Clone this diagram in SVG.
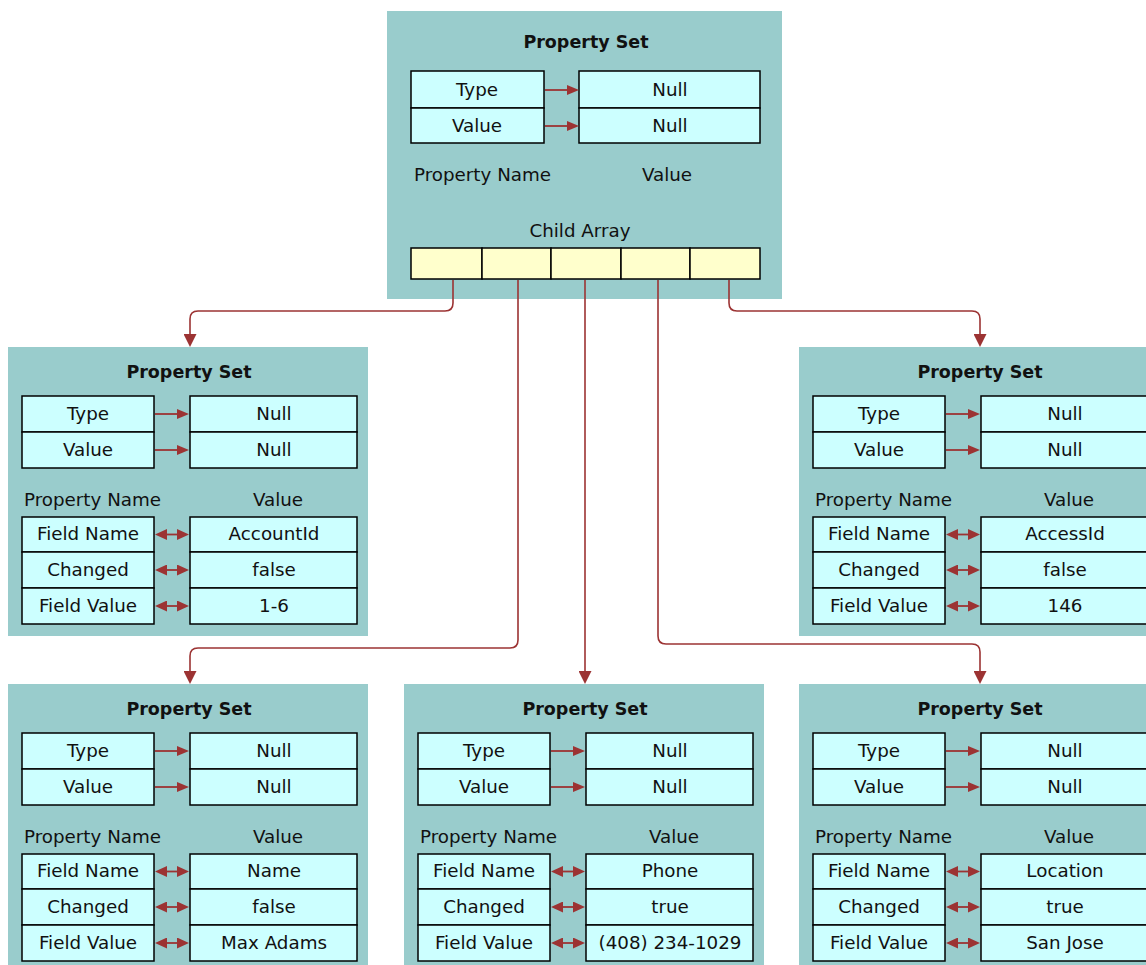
<svg xmlns="http://www.w3.org/2000/svg" width="1146" height="965" viewBox="0 0 1146 965">
<style>
.bg{fill:#99cccc}
.cell{fill:#ccffff;stroke:#000;stroke-width:1.5}
.arr{fill:#ffffcc;stroke:#000;stroke-width:1.5}
text{font-family:"DejaVu Sans","Liberation Sans",sans-serif;font-size:18.3px;fill:#111}
.t{font-weight:bold;font-size:17.5px;text-anchor:middle}
.c{text-anchor:middle}
.ln{fill:none;stroke:#9c3333;stroke-width:1.6}
.in{stroke:#9c3333;stroke-width:1.8}
</style>
<defs>
<marker id="mc" markerUnits="userSpaceOnUse" markerWidth="13" markerHeight="13" refX="0" refY="6.5" orient="auto"><path d="M0,0 L13,6.5 L0,13 z" fill="#9c3333"/></marker>
<marker id="ma" markerUnits="userSpaceOnUse" markerWidth="12" markerHeight="10" refX="0" refY="5" orient="auto"><path d="M0,0 L12,5 L0,10 z" fill="#9c3333"/></marker>
<marker id="md" markerUnits="userSpaceOnUse" markerWidth="12" markerHeight="11" refX="0" refY="5.5" orient="auto-start-reverse"><path d="M0,0 L12,5.5 L0,11 z" fill="#9c3333"/></marker>
</defs>

<g id="root">
<rect class="bg" x="387" y="11" width="395" height="288"/>
<text class="t" x="586" y="48">Property Set</text>
<rect class="cell" x="411" y="71" width="133" height="37"/>
<rect class="cell" x="411" y="108" width="133" height="35"/>
<rect class="cell" x="579" y="71" width="181" height="37"/>
<rect class="cell" x="579" y="108" width="181" height="35"/>
<text class="c" x="477" y="96">Type</text>
<text class="c" x="477" y="132">Value</text>
<text class="c" x="670" y="96">Null</text>
<text class="c" x="670" y="132">Null</text>
<line class="in" x1="545" y1="90" x2="567" y2="90" marker-end="url(#ma)"/>
<line class="in" x1="545" y1="126" x2="567" y2="126" marker-end="url(#ma)"/>
<text x="414" y="181">Property Name</text>
<text class="c" x="667" y="181">Value</text>
<text class="c" x="580" y="237">Child Array</text>
<rect class="arr" x="411" y="248" width="71" height="31"/>
<rect class="arr" x="482" y="248" width="69" height="31"/>
<rect class="arr" x="551" y="248" width="70" height="31"/>
<rect class="arr" x="621" y="248" width="69" height="31"/>
<rect class="arr" x="690" y="248" width="70" height="31"/>
</g>

<g id="ps-account" transform="translate(8,347)">
<rect class="bg" x="0" y="0" width="360" height="289"/>
<text class="t" x="181" y="31">Property Set</text>
<rect class="cell" x="14" y="49" width="132" height="36"/><rect class="cell" x="14" y="85" width="132" height="36"/>
<rect class="cell" x="182" y="49" width="167" height="36"/><rect class="cell" x="182" y="85" width="167" height="36"/>
<text class="c" x="80" y="73">Type</text><text class="c" x="80" y="109">Value</text>
<text class="c" x="266" y="73">Null</text><text class="c" x="266" y="109">Null</text>
<line class="in" x1="147" y1="67" x2="169" y2="67" marker-end="url(#ma)"/>
<line class="in" x1="147" y1="103" x2="169" y2="103" marker-end="url(#ma)"/>
<text x="16" y="159">Property Name</text><text class="c" x="270" y="159">Value</text>
<rect class="cell" x="14" y="170" width="132" height="35"/><rect class="cell" x="14" y="205" width="132" height="36"/><rect class="cell" x="14" y="241" width="132" height="36"/>
<rect class="cell" x="182" y="170" width="167" height="35"/><rect class="cell" x="182" y="205" width="167" height="36"/><rect class="cell" x="182" y="241" width="167" height="36"/>
<text class="c" x="80" y="193">Field Name</text><text class="c" x="80" y="229">Changed</text><text class="c" x="80" y="265">Field Value</text>
<text class="c" x="266" y="193">AccountId</text><text class="c" x="266" y="229">false</text><text class="c" x="266" y="265">1-6</text>
<line class="in" x1="159" y1="187.5" x2="169" y2="187.5" marker-start="url(#md)" marker-end="url(#md)"/>
<line class="in" x1="159" y1="223" x2="169" y2="223" marker-start="url(#md)" marker-end="url(#md)"/>
<line class="in" x1="159" y1="259" x2="169" y2="259" marker-start="url(#md)" marker-end="url(#md)"/>
</g>

<g id="ps-access" transform="translate(799,347)">
<rect class="bg" x="0" y="0" width="360" height="289"/>
<text class="t" x="181" y="31">Property Set</text>
<rect class="cell" x="14" y="49" width="132" height="36"/><rect class="cell" x="14" y="85" width="132" height="36"/>
<rect class="cell" x="182" y="49" width="167" height="36"/><rect class="cell" x="182" y="85" width="167" height="36"/>
<text class="c" x="80" y="73">Type</text><text class="c" x="80" y="109">Value</text>
<text class="c" x="266" y="73">Null</text><text class="c" x="266" y="109">Null</text>
<line class="in" x1="147" y1="67" x2="169" y2="67" marker-end="url(#ma)"/>
<line class="in" x1="147" y1="103" x2="169" y2="103" marker-end="url(#ma)"/>
<text x="16" y="159">Property Name</text><text class="c" x="270" y="159">Value</text>
<rect class="cell" x="14" y="170" width="132" height="35"/><rect class="cell" x="14" y="205" width="132" height="36"/><rect class="cell" x="14" y="241" width="132" height="36"/>
<rect class="cell" x="182" y="170" width="167" height="35"/><rect class="cell" x="182" y="205" width="167" height="36"/><rect class="cell" x="182" y="241" width="167" height="36"/>
<text class="c" x="80" y="193">Field Name</text><text class="c" x="80" y="229">Changed</text><text class="c" x="80" y="265">Field Value</text>
<text class="c" x="266" y="193">AccessId</text><text class="c" x="266" y="229">false</text><text class="c" x="266" y="265">146</text>
<line class="in" x1="159" y1="187.5" x2="169" y2="187.5" marker-start="url(#md)" marker-end="url(#md)"/>
<line class="in" x1="159" y1="223" x2="169" y2="223" marker-start="url(#md)" marker-end="url(#md)"/>
<line class="in" x1="159" y1="259" x2="169" y2="259" marker-start="url(#md)" marker-end="url(#md)"/>
</g>

<g id="ps-name" transform="translate(8,684)">
<rect class="bg" x="0" y="0" width="360" height="289"/>
<text class="t" x="181" y="31">Property Set</text>
<rect class="cell" x="14" y="49" width="132" height="36"/><rect class="cell" x="14" y="85" width="132" height="36"/>
<rect class="cell" x="182" y="49" width="167" height="36"/><rect class="cell" x="182" y="85" width="167" height="36"/>
<text class="c" x="80" y="73">Type</text><text class="c" x="80" y="109">Value</text>
<text class="c" x="266" y="73">Null</text><text class="c" x="266" y="109">Null</text>
<line class="in" x1="147" y1="67" x2="169" y2="67" marker-end="url(#ma)"/>
<line class="in" x1="147" y1="103" x2="169" y2="103" marker-end="url(#ma)"/>
<text x="16" y="159">Property Name</text><text class="c" x="270" y="159">Value</text>
<rect class="cell" x="14" y="170" width="132" height="35"/><rect class="cell" x="14" y="205" width="132" height="36"/><rect class="cell" x="14" y="241" width="132" height="36"/>
<rect class="cell" x="182" y="170" width="167" height="35"/><rect class="cell" x="182" y="205" width="167" height="36"/><rect class="cell" x="182" y="241" width="167" height="36"/>
<text class="c" x="80" y="193">Field Name</text><text class="c" x="80" y="229">Changed</text><text class="c" x="80" y="265">Field Value</text>
<text class="c" x="266" y="193">Name</text><text class="c" x="266" y="229">false</text><text class="c" x="266" y="265">Max Adams</text>
<line class="in" x1="159" y1="187.5" x2="169" y2="187.5" marker-start="url(#md)" marker-end="url(#md)"/>
<line class="in" x1="159" y1="223" x2="169" y2="223" marker-start="url(#md)" marker-end="url(#md)"/>
<line class="in" x1="159" y1="259" x2="169" y2="259" marker-start="url(#md)" marker-end="url(#md)"/>
</g>

<g id="ps-phone" transform="translate(404,684)">
<rect class="bg" x="0" y="0" width="360" height="289"/>
<text class="t" x="181" y="31">Property Set</text>
<rect class="cell" x="14" y="49" width="132" height="36"/><rect class="cell" x="14" y="85" width="132" height="36"/>
<rect class="cell" x="182" y="49" width="167" height="36"/><rect class="cell" x="182" y="85" width="167" height="36"/>
<text class="c" x="80" y="73">Type</text><text class="c" x="80" y="109">Value</text>
<text class="c" x="266" y="73">Null</text><text class="c" x="266" y="109">Null</text>
<line class="in" x1="147" y1="67" x2="169" y2="67" marker-end="url(#ma)"/>
<line class="in" x1="147" y1="103" x2="169" y2="103" marker-end="url(#ma)"/>
<text x="16" y="159">Property Name</text><text class="c" x="270" y="159">Value</text>
<rect class="cell" x="14" y="170" width="132" height="35"/><rect class="cell" x="14" y="205" width="132" height="36"/><rect class="cell" x="14" y="241" width="132" height="36"/>
<rect class="cell" x="182" y="170" width="167" height="35"/><rect class="cell" x="182" y="205" width="167" height="36"/><rect class="cell" x="182" y="241" width="167" height="36"/>
<text class="c" x="80" y="193">Field Name</text><text class="c" x="80" y="229">Changed</text><text class="c" x="80" y="265">Field Value</text>
<text class="c" x="266" y="193">Phone</text><text class="c" x="266" y="229">true</text><text class="c" x="266" y="265">(408) 234-1029</text>
<line class="in" x1="159" y1="187.5" x2="169" y2="187.5" marker-start="url(#md)" marker-end="url(#md)"/>
<line class="in" x1="159" y1="223" x2="169" y2="223" marker-start="url(#md)" marker-end="url(#md)"/>
<line class="in" x1="159" y1="259" x2="169" y2="259" marker-start="url(#md)" marker-end="url(#md)"/>
</g>

<g id="ps-location" transform="translate(799,684)">
<rect class="bg" x="0" y="0" width="360" height="289"/>
<text class="t" x="181" y="31">Property Set</text>
<rect class="cell" x="14" y="49" width="132" height="36"/><rect class="cell" x="14" y="85" width="132" height="36"/>
<rect class="cell" x="182" y="49" width="167" height="36"/><rect class="cell" x="182" y="85" width="167" height="36"/>
<text class="c" x="80" y="73">Type</text><text class="c" x="80" y="109">Value</text>
<text class="c" x="266" y="73">Null</text><text class="c" x="266" y="109">Null</text>
<line class="in" x1="147" y1="67" x2="169" y2="67" marker-end="url(#ma)"/>
<line class="in" x1="147" y1="103" x2="169" y2="103" marker-end="url(#ma)"/>
<text x="16" y="159">Property Name</text><text class="c" x="270" y="159">Value</text>
<rect class="cell" x="14" y="170" width="132" height="35"/><rect class="cell" x="14" y="205" width="132" height="36"/><rect class="cell" x="14" y="241" width="132" height="36"/>
<rect class="cell" x="182" y="170" width="167" height="35"/><rect class="cell" x="182" y="205" width="167" height="36"/><rect class="cell" x="182" y="241" width="167" height="36"/>
<text class="c" x="80" y="193">Field Name</text><text class="c" x="80" y="229">Changed</text><text class="c" x="80" y="265">Field Value</text>
<text class="c" x="266" y="193">Location</text><text class="c" x="266" y="229">true</text><text class="c" x="266" y="265">San Jose</text>
<line class="in" x1="159" y1="187.5" x2="169" y2="187.5" marker-start="url(#md)" marker-end="url(#md)"/>
<line class="in" x1="159" y1="223" x2="169" y2="223" marker-start="url(#md)" marker-end="url(#md)"/>
<line class="in" x1="159" y1="259" x2="169" y2="259" marker-start="url(#md)" marker-end="url(#md)"/>
</g>

<g id="connectors">
<path class="ln" d="M453,280 V303 Q453,311 445,311 H198 Q190,311 190,319 V334" marker-end="url(#mc)"/>
<path class="ln" d="M518,280 V640 Q518,648 510,648 H198 Q190,648 190,656 V671" marker-end="url(#mc)"/>
<path class="ln" d="M585,280 V671" marker-end="url(#mc)"/>
<path class="ln" d="M658,280 V636 Q658,644 666,644 H972 Q980,644 980,652 V671" marker-end="url(#mc)"/>
<path class="ln" d="M729,280 V303 Q729,311 737,311 H972 Q980,311 980,319 V334" marker-end="url(#mc)"/>
</g>
</svg>
